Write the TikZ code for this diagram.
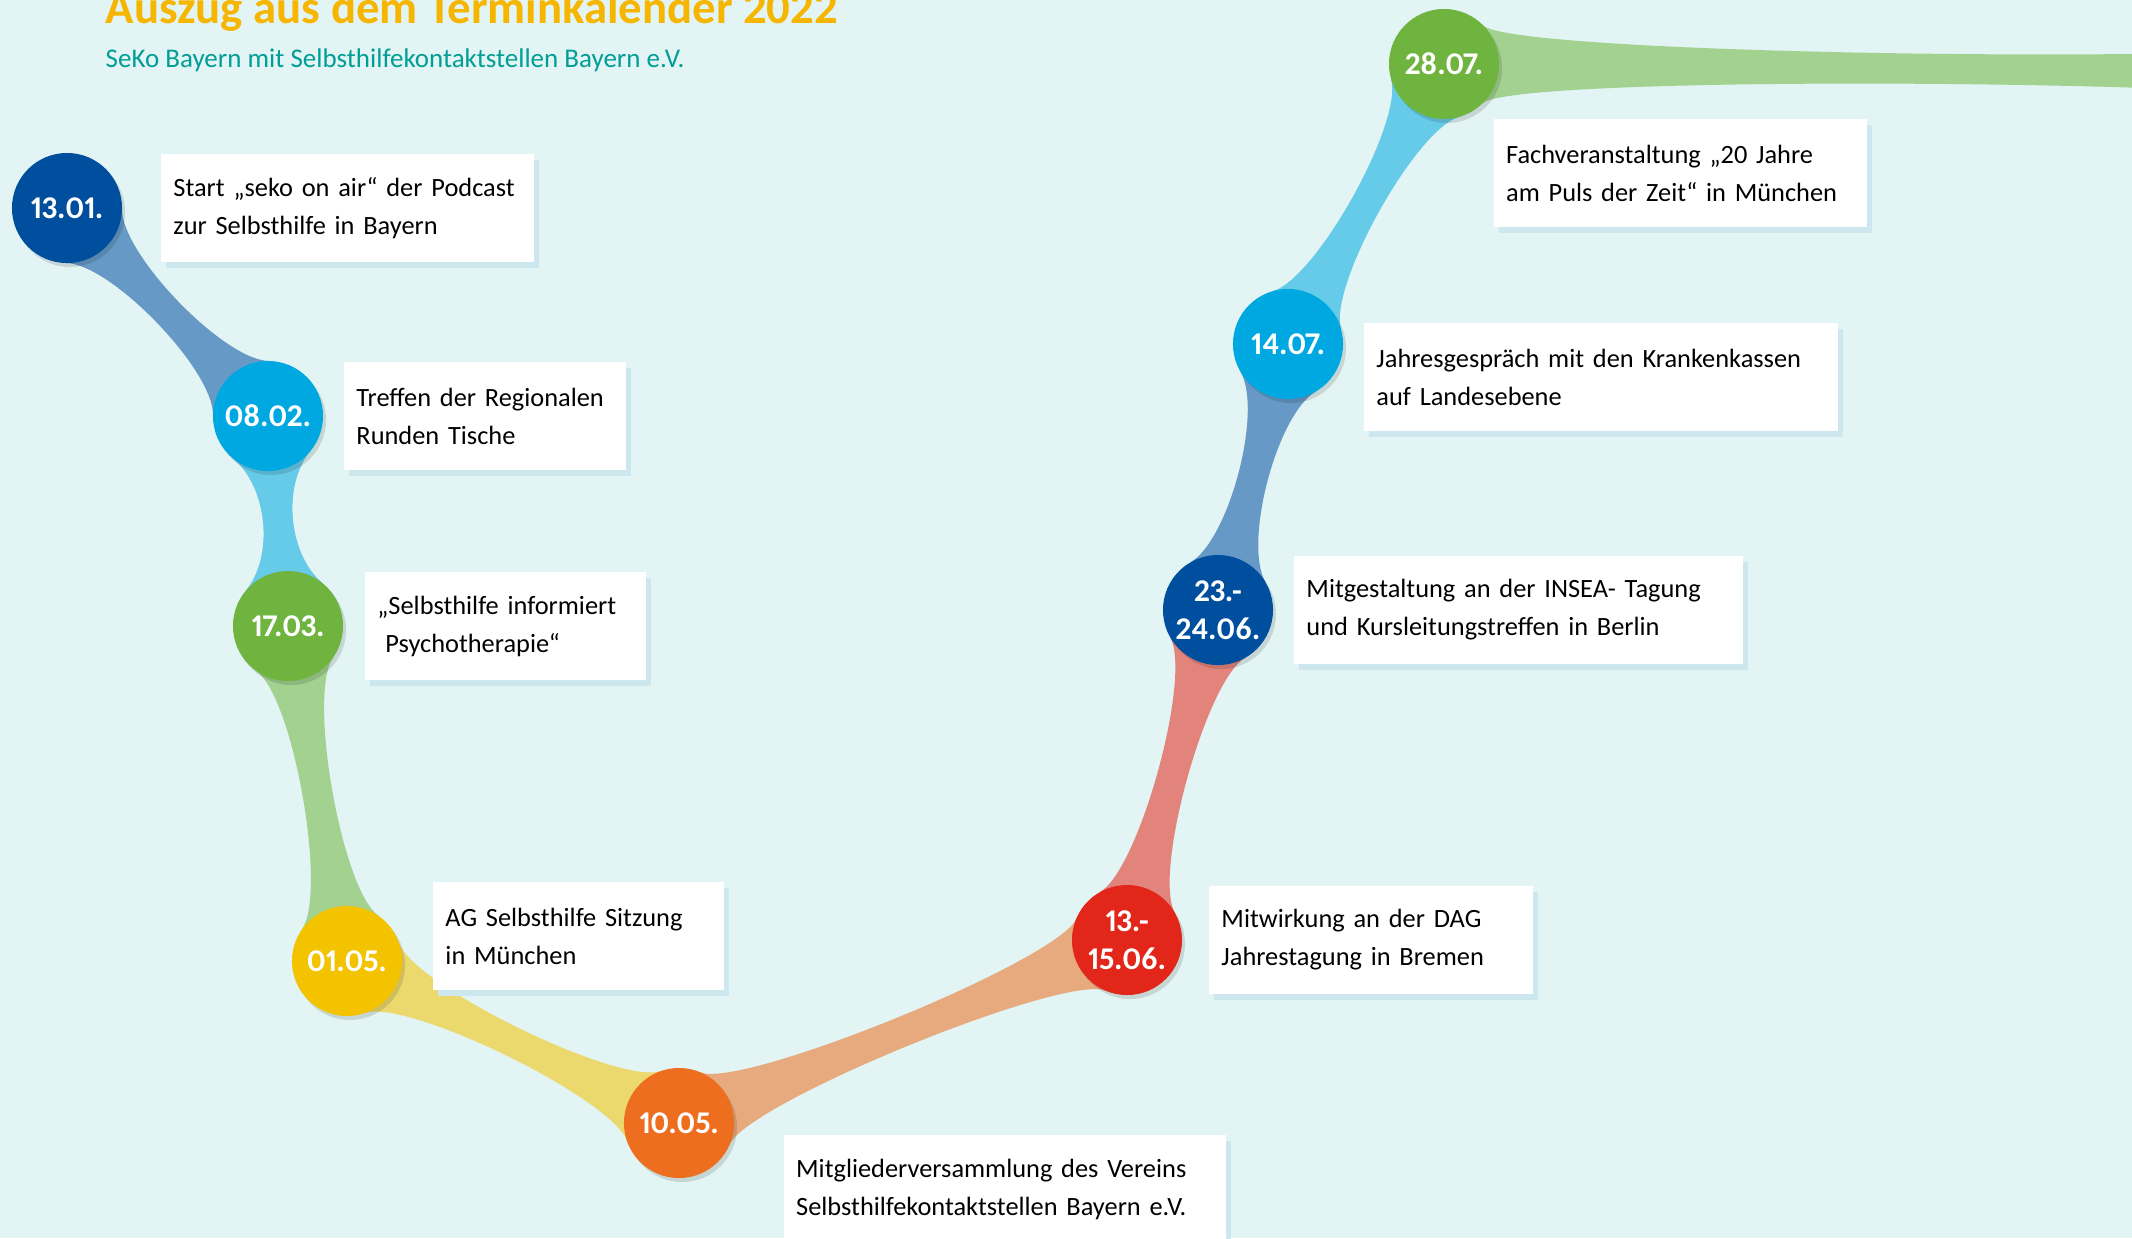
\documentclass[tikz,border=0pt]{standalone}
\usepackage{fontspec}
\setmainfont{Carlito}
\newfontfamily\datefamily[Numbers=Proportional]{Carlito}
\usepackage{tikz}
\usetikzlibrary{positioning, calc, shadows}

\definecolor{bgcol}{RGB}{226,244,243}
\definecolor{dblue}{RGB}{0,79,159}
\definecolor{lblue}{RGB}{0,168,225}
\definecolor{green}{RGB}{110,180,63}
\definecolor{yellow}{RGB}{243,195,0}
\definecolor{orange}{RGB}{236,110,30}
\definecolor{red}{RGB}{226,38,26}
\definecolor{titlecol}{RGB}{246,182,0}
\definecolor{subcol}{RGB}{0,158,150}
\definecolor{shadowcol}{RGB}{205,231,238}

\pgfdeclarelayer{ribbonlayer}
\pgfsetlayers{ribbonlayer,main}

\begin{document}
\begin{tikzpicture}[
    x=0.01cm, y=-0.01cm,
    datedot/.style={circle, fill=#1, minimum size=1.1cm, inner sep=0pt, text=white, align=center,
        font=\datefamily\fontsize{9}{10.8}\selectfont\bfseries,
        drop shadow={shadow xshift=0.03cm, shadow yshift=-0.04cm, opacity=0.12, fill=black}},
    infobox/.style={rectangle, fill=white, text width=#1, inner xsep=0.12cm, minimum height=1.08cm,
        align=left, font=\fontsize{7.5}{10.8}\selectfont, execute at end node={\endgraf\vskip0.1cm},
        drop shadow={shadow xshift=0.05cm, shadow yshift=-0.06cm, opacity=1, fill=shadowcol}},
    ribbon/.style={fill=#1!55!bgcol, to path={
        let \p1=(\tikztostart.center), \p2=(\tikztotarget.center), \n1={atan2(\y2-\y1,\x2-\x1)} in
        ($(\p1)+(\n1+45:0.55cm)$) .. controls +(\n1-45:0.45cm) and +(\n1+225:0.45cm) .. ($(\p2)+(\n1+135:0.55cm)$)
        -- ($(\p2)+(\n1+225:0.55cm)$) .. controls +(\n1+135:0.45cm) and +(\n1+45:0.45cm) .. ($(\p1)+(\n1-45:0.55cm)$)
        -- cycle}}
]
\useasboundingbox (0,0) rectangle (2132,1238);

% title
\node[anchor=base west, inner sep=0pt, text=titlecol, font=\fontsize{13.3}{16}\selectfont\bfseries] (title) at (105,23)
    {Auszug aus dem Terminkalender 2022};
\node[anchor=base west, inner sep=0pt, text=subcol, font=\fontsize{7.68}{9}\selectfont] (subtitle) at (105,67)
    {SeKo Bayern mit Selbsthilfekontaktstellen Bayern e.V.};

% dates
\node[datedot=dblue] (d1) at (67,208) {13.01.};
\node[datedot=lblue] (d2) at (268,416) {08.02.};
\node[datedot=green] (d3) at (288,626) {17.03.};
\node[datedot=yellow] (d4) at (347,961) {01.05.};
\node[datedot=orange] (d5) at (679,1123) {10.05.};
\node[datedot=red] (d6) at (1127,940) {13.-\\15.06.};
\node[datedot=dblue] (d7) at (1218,610) {23.-\\24.06.};
\node[datedot=lblue] (d8) at (1288,344) {14.07.};
\node[datedot=green] (d9) at (1444,64) {28.07.};
\coordinate (tail) at (2460,74);

% texts
\node[infobox=3.48cm, right=0.38cm of d1] (t1) {Start „seko on air“ der Podcast\\zur Selbsthilfe in Bayern};
\node[infobox=2.57cm, right=0.2cm of d2] (t2) {Treffen der Regionalen\\Runden Tische};
\node[infobox=2.56cm, right=0.21cm of d3] (t3) {„Selbsthilfe informiert\\\hspace*{0.08cm}Psychotherapie“};
\node[infobox=2.66cm, right=0.3cm of d4, yshift=0.25cm] (t4) {AG Selbsthilfe Sitzung\\in München};
\node[infobox=4.18cm, below right=-0.28cm and 0.65cm of d5] (t5) {Mitgliederversammlung des Vereins\\Selbsthilfekontaktstellen Bayern e.V.};
\node[infobox=2.99cm, right=0.26cm of d6] (t6) {Mitwirkung an der DAG\\Jahrestagung in Bremen};
\node[infobox=4.24cm, right=0.2cm of d7] (t7) {Mitgestaltung an der INSEA- Tagung\\und Kursleitungstreffen in Berlin};
\node[infobox=4.49cm, right=0.2cm of d8, yshift=-0.33cm] (t8) {Jahresgespräch mit den Krankenkassen\\auf Landesebene};
\node[infobox=3.49cm, below right=0.15cm and 0.1cm of d9] (t9) {Fachveranstaltung „20 Jahre\\am Puls der Zeit“ in München};

% ribbons
\begin{pgfonlayer}{ribbonlayer}
\fill[bgcol] (0,0) rectangle (2132,1238);
\fill[ribbon=dblue] (d1) to (d2);
\fill[ribbon=lblue] (d2) to (d3);
\fill[ribbon=green] (d3) to (d4);
\fill[ribbon=yellow] (d4) to (d5);
\fill[ribbon=orange] (d5) to (d6);
\fill[ribbon=red] (d6) to (d7);
\fill[ribbon=dblue] (d7) to (d8);
\fill[ribbon=lblue] (d8) to (d9);
\fill[ribbon=green] (d9) to (tail);
\end{pgfonlayer}
\end{tikzpicture}
\end{document}
